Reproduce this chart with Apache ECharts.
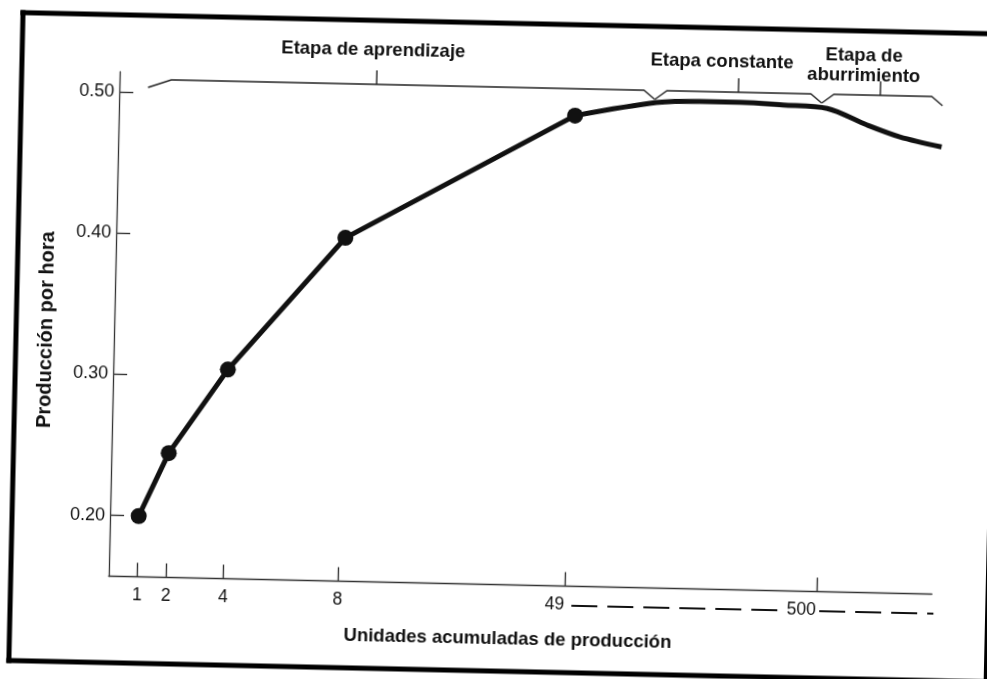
<!DOCTYPE html>
<html lang="es">
<head>
<meta charset="utf-8">
<title>Producción por hora y unidades acumuladas</title>
<script src="https://cdn.jsdelivr.net/npm/echarts@6.0.0/dist/echarts.min.js"></script>
<style>
  html, body { margin: 0; padding: 0; background: #fff; width: 987px; height: 679px; overflow: hidden; }
  /* la lámina está ligeramente girada */
  #lienzo { position: absolute; left: 0; top: 0; width: 1010px; height: 700px;
            transform-origin: 493.5px 339.5px; transform: rotate(1.25deg); }
</style>
</head>
<body>
<div id="lienzo"></div>
<script>
// Etapa de aprendizaje: puntos marcados
const unidades = [1, 2, 4, 8, 49];
const produccion = [0.20, 0.245, 0.305, 0.40, 0.49];

// Tramo siguiente (curva suave, sin marcas)
const unidadesTramo = [49, 194, 272, 344, 421, 500, 673, 818, 1000];
const produccionTramo = [0.49, 0.5005, 0.502, 0.502, 0.5008, 0.499, 0.488, 0.480, 0.4735];

// Marcas de los ejes
const marcasX = [1, 2, 4, 8, 49, 500];
const marcasY = [0.20, 0.30, 0.40, 0.50];

// Cortes de escala del eje X (8 … 49 … 500 … 1000)
const cortesX = [
  { start: 8.001, end: 48.999, gap: 7.92 },
  { start: 49.001, end: 499.999, gap: 8.79 },
  { start: 500.001, end: 999.999, gap: 4.02 }
];

// Etapas (intervalos en unidades acumuladas)
const etapas = [
  { nombre: ['Etapa de aprendizaje'], desde: 1, hasta: 191 },
  { nombre: ['Etapa constante'], desde: 191, hasta: 490 },
  { nombre: ['Etapa de', 'aburrimiento'], desde: 490, hasta: 1000 }
];

const ejeX = 'Unidades acumuladas de producción';
const ejeY = 'Producción por hora';

const fuente = '"Liberation Sans", Arial, Helvetica, sans-serif';
const negro = '#111';
const gris = '#333';

const chart = echarts.init(document.getElementById('lienzo'), null, { renderer: 'canvas' });

chart.setOption({
  animation: false,
  backgroundColor: '#fff',
  grid: { left: 114, top: 80, width: 823.3, height: 504.5 },
  xAxis: [
    {
      type: 'value',
      position: 'bottom',
      min: 0,
      max: 1000,
      breaks: cortesX,
      breakArea: { show: false, itemStyle: { opacity: 0, borderWidth: 0 }, zigzagAmplitude: 0 },
      axisLine: { show: false, onZero: false },
      axisTick: { show: true, inside: true, length: 14, customValues: marcasX,
                  lineStyle: { color: gris, width: 1.4 } },
      axisLabel: {
        customValues: marcasX,
        margin: 10,
        color: negro,
        fontSize: 17.5,
        fontFamily: fuente,
        formatter: function (v) {
          if (v === 49) return '{d2|49}';
          if (v === 500) return '{d3|500}';
          return '{c|' + v + '}';
        },
        rich: {
          c: { fontSize: 17.5, fontFamily: fuente, color: negro },
          d2: { fontSize: 17.5, fontFamily: fuente, color: negro, padding: [0, 20, 0, 0] },
          d3: { fontSize: 17.5, fontFamily: fuente, color: negro, padding: [0, 30, 0, 0] }
        }
      },
      splitLine: { show: false }
    },
    {
      // línea continua del eje horizontal
      type: 'value',
      position: 'bottom',
      min: 0,
      max: 1,
      axisLine: { show: true, onZero: false, lineStyle: { color: gris, width: 1.3 } },
      axisTick: { show: false },
      axisLabel: { show: false },
      splitLine: { show: false }
    }
  ],
  yAxis: {
    type: 'value',
    min: 0.157,
    max: 0.514,
    axisLine: { show: true, onZero: false, lineStyle: { color: gris, width: 1.3 } },
    axisTick: { show: true, inside: true, length: 14, customValues: marcasY,
                lineStyle: { color: gris, width: 1.4 } },
    axisLabel: {
      customValues: marcasY,
      margin: 5,
      color: negro,
      fontSize: 18,
      fontFamily: fuente,
      formatter: function (v) { return v.toFixed(2); }
    },
    splitLine: { show: false }
  },
  series: [
    {
      name: 'aprendizaje',
      type: 'line',
      xAxisIndex: 0,
      data: unidades.map(function (u, i) { return [u, produccion[i]]; }),
      symbol: 'circle',
      symbolSize: 16,
      lineStyle: { color: negro, width: 5 },
      itemStyle: { color: negro },
      z: 4
    },
    {
      name: 'tramo',
      type: 'line',
      xAxisIndex: 0,
      data: unidadesTramo.map(function (u, i) { return [u, produccionTramo[i]]; }),
      smooth: 0.3,
      symbol: 'none',
      clip: false,
      lineStyle: { color: negro, width: 5 },
      z: 3
    }
  ]
});

// Anotaciones: llaves de etapas, rótulos, línea discontinua y marco
function px(v) { return chart.convertToPixel({ xAxisIndex: 0 }, v); }

const graficos = [];
const trazo = { stroke: '#222', lineWidth: 1.4, fill: null };
const yTope = 87, yPunta = 96, yMarca = 73;
const despMarca = [-25, 0, -2];
const despTexto = [-29, -17, -19];
const yTexto = [53, 57, 48];

etapas.forEach(function (e, i) {
  const x0 = px(e.desde), x1 = px(e.hasta);
  const rampaIzq = i === 0 ? 23 : 12;
  const medio = (x0 + x1) / 2;
  graficos.push({
    type: 'polyline', silent: true,
    shape: { points: [[x0, yPunta - (i === 0 ? 1 : 0)], [x0 + rampaIzq, yTope], [x1 - 11, yTope], [x1, yPunta]] },
    style: trazo
  });
  const xm = medio + despMarca[i];
  graficos.push({
    type: 'line', silent: true,
    shape: { x1: xm, y1: yTope, x2: xm, y2: yMarca },
    style: { stroke: '#222', lineWidth: 1.4 }
  });
  const xt = medio + despTexto[i];
  e.nombre.forEach(function (linea, k) {
    graficos.push({
      type: 'text', silent: true,
      x: xt, y: yTexto[i] + k * 19.5,
      style: { text: linea, font: 'bold 18.5px ' + fuente, fill: negro,
               align: 'center', verticalAlign: 'middle' }
    });
  });
});

// Continuación de la escala bajo el eje
const yGuion = 604;
graficos.push({
  type: 'line', silent: true,
  shape: { x1: px(49) + 7, y1: yGuion, x2: px(500) - 38, y2: yGuion },
  style: { stroke: negro, lineWidth: 2, lineDash: [26, 10] }
});
graficos.push({
  type: 'line', silent: true,
  shape: { x1: px(500) + 3, y1: yGuion, x2: px(1000) + 2, y2: yGuion },
  style: { stroke: negro, lineWidth: 2, lineDash: [26, 10] }
});

// Títulos de los ejes
graficos.push({
  type: 'text', silent: true, x: 514, y: 639,
  style: { text: ejeX, font: 'bold 18.5px ' + fuente, fill: negro, align: 'center', verticalAlign: 'middle' }
});
graficos.push({
  type: 'text', silent: true, x: 46.5, y: 339.5, rotation: Math.PI / 2,
  style: { text: ejeY, font: 'bold 20px ' + fuente, fill: negro, align: 'center', verticalAlign: 'middle' }
});

// Marco de la lámina
const marco = { stroke: '#000', lineWidth: 5 };
graficos.push({ type: 'line', silent: true, shape: { x1: 13.5, y1: 23, x2: 1010, y2: 23 }, style: marco });
graficos.push({ type: 'line', silent: true, shape: { x1: 16, y1: 20.5, x2: 16, y2: 673.5 }, style: marco });
graficos.push({ type: 'line', silent: true, shape: { x1: 13.5, y1: 671, x2: 1010, y2: 671 }, style: marco });
graficos.push({ type: 'line', silent: true, shape: { x1: 993, y1: 23, x2: 993, y2: 673.5 }, style: { stroke: '#000', lineWidth: 4 } });

chart.setOption({ graphic: graficos });
</script>
</body>
</html>
